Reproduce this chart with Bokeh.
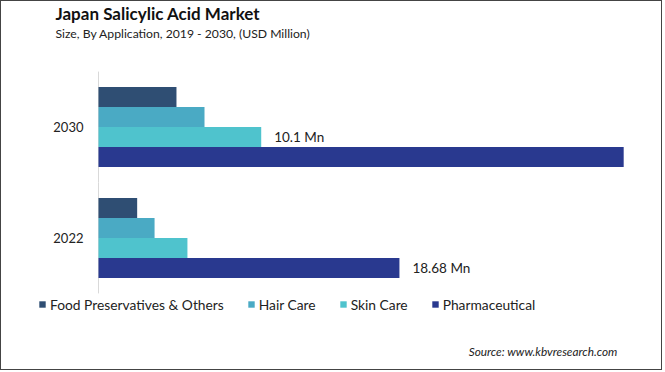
from bokeh.plotting import figure
from bokeh.models import FactorRange, Range1d, Label, Legend, LegendItem, ColumnDataSource
from bokeh.transform import dodge
from bokeh.core.properties import value
from bokeh.embed import file_html
from bokeh.resources import INLINE

# ---- data ----
years = ["2022", "2030"]
series = ["Food Preservatives & Others", "Hair Care", "Skin Care", "Pharmaceutical"]
food = [2.40, 4.84]
hair = [3.48, 6.58]
skin = [5.52, 10.10]
pharma = [18.68, 32.60]
label_series = ["Skin Care", "Pharmaceutical"]
label_years = ["2030", "2022"]
label_values = [10.1, 18.68]
label_texts = ["10.1 Mn", "18.68 Mn"]

colors = ["#2F4E73", "#4AAAC4", "#4FC3CD", "#29398F"]
FONT = "Lato"

W, H = 662, 370
CW, CH = W, H
PX = 16.11                      # pixels per USD million
AX = 97                         # x pixel of the value axis origin
BOTTOM = 8
FRAME_H = CH - BOTTOM
PAD = 0.632

p = figure(width=W, height=H, output_backend="svg", toolbar_location=None,
           y_range=FactorRange(*years, range_padding=PAD, range_padding_units="absolute"),
           x_range=Range1d(-AX / PX, (CW - AX) / PX),
           min_border_left=0, min_border_right=0,
           min_border_top=0, min_border_bottom=BOTTOM)
p.styles = {"border": "1px solid #444444"}
p.outline_line_color = None
p.background_fill_color = "white"
p.border_fill_color = "white"
p.xgrid.visible = False
p.ygrid.visible = False
p.xaxis.visible = False

ya = p.yaxis[0]
ya.fixed_location = 0
ya.axis_line_color = None
ya.major_tick_line_color = None
ya.minor_tick_line_color = None
ya.major_tick_out = 0
ya.major_tick_in = 0
ya.major_label_standoff = 15
ya.major_label_text_font = FONT
ya.major_label_text_font_size = "13px"
ya.major_label_text_color = "#222222"

unit = FRAME_H / (len(years) + 2 * PAD)
bar_h = 20 / unit
offsets = [1.5 * bar_h, 0.5 * bar_h, -0.5 * bar_h, -1.5 * bar_h]
all_vals = [food, hair, skin, pharma]

# axis line spanning the category bands only
axsrc = ColumnDataSource(dict(year=years, zero=[0] * len(years)))
p.segment(x0="zero", x1="zero", y0=dodge("year", 0.5, range=p.y_range),
          y1=dodge("year", -0.5, range=p.y_range), source=axsrc,
          line_color="#D9D9D9", line_width=1)

items = []
for name, vals, off, col in zip(series, all_vals, offsets, colors):
    src = ColumnDataSource(dict(year=years, value=vals))
    r = p.hbar(y=dodge("year", off, range=p.y_range), left=0, right="value",
               height=bar_h, source=src, fill_color=col, line_color=None)
    items.append(LegendItem(label=name, renderers=[r]))

# value labels
for s, yr, v, t in zip(label_series, label_years, label_values, label_texts):
    off = offsets[series.index(s)]
    src = ColumnDataSource(dict(year=[yr], value=[v], text=[t]))
    p.text(x="value", y=dodge("year", off, range=p.y_range), text="text", source=src,
           x_offset=13, text_baseline="middle", text_align="left",
           text_font=value(FONT), text_font_size="13.5px", text_color="#222222")

fb = FRAME_H + 1   # page y of frame bottom
legend = Legend(items=items, orientation="horizontal", location=(37, fb - 312.5),
                padding=0, margin=0, spacing=23, label_standoff=4,
                glyph_width=8, glyph_height=8,
                label_text_font=FONT, label_text_font_size="13.8px",
                label_text_color="#222222",
                border_line_color=None, background_fill_alpha=0)
p.add_layout(legend, "center")

p.add_layout(Label(x=54, y=fb - 13, x_units="screen", y_units="screen",
                   text="Japan Salicylic Acid Market", text_font=FONT,
                   text_font_size="17px", text_font_style="bold",
                   text_color="#111111", text_baseline="middle"))
p.add_layout(Label(x=54, y=fb - 32.5, x_units="screen", y_units="screen",
                   text="Size, By Application, 2019 - 2030, (USD Million)", text_font=FONT,
                   text_font_size="12.2px", text_color="#222222", text_baseline="middle"))
p.add_layout(Label(x=616, y=fb - 351, x_units="screen", y_units="screen",
                   text="Source: www.kbvresearch.com", text_font=FONT,
                   text_font_size="11.8px", text_font_style="italic",
                   text_color="#222222", text_baseline="middle", text_align="right"))

open("out.html", "w").write(file_html(p, INLINE))
